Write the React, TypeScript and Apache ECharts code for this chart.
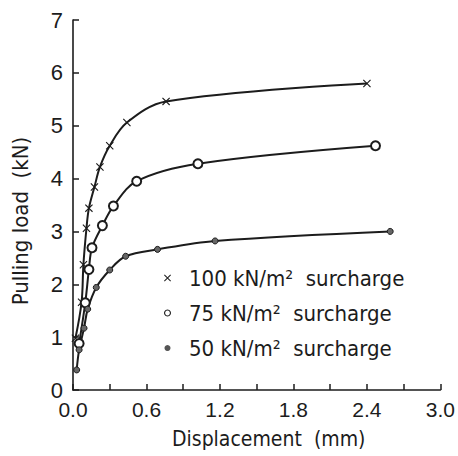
import React, { useEffect, useRef } from "react";
import * as echarts from "echarts";

// Displacement (mm) / Pulling load (kN)
const disp100 = [0.02, 0.07, 0.085, 0.11, 0.13, 0.175, 0.22, 0.3, 0.44, 0.76, 2.4];
const load100 = [0.98, 1.66, 2.37, 3.06, 3.44, 3.84, 4.22, 4.62, 5.06, 5.46, 5.8];
const disp75 = [0.05, 0.1, 0.13, 0.155, 0.24, 0.33, 0.52, 1.02, 2.47];
const load75 = [0.88, 1.65, 2.28, 2.69, 3.11, 3.48, 3.95, 4.28, 4.62];
const disp50 = [0.03, 0.05, 0.09, 0.12, 0.19, 0.3, 0.43, 0.69, 1.16, 2.59];
const load50 = [0.38, 0.76, 1.17, 1.53, 1.94, 2.27, 2.53, 2.66, 2.82, 3.0];

const seriesNames = ["100 kN/m²  surcharge", "75 kN/m²  surcharge", "50 kN/m²  surcharge"];
const xTitle = "Displacement  (mm)";
const yTitle = "Pulling load  (kN)";

const INK = "#1c1c1c";
const CROSS = "path://M1,0L5,4L9,0L10,1L6,5L10,9L9,10L5,6L1,10L0,9L4,5L0,1Z";
const RING = "path://M3.5,0A3.5,3.5,0,1,1,3.49,0ZM3.5,1.1A2.4,2.4,0,1,0,3.51,1.1Z";
const SMALL_DOT = "path://M0.5,0.5M6.5,6.5M3.5,0.9A2.6,2.6,0,1,1,3.49,0.9Z";
const FONT = "DejaVu Sans Condensed, DejaVu Sans, sans-serif";
const NUMFONT = "Liberation Sans, Arial, sans-serif";

function pairs(xs: number[], ys: number[]) {
  return xs.map((x, i) => [x, ys[i]]);
}

export default function App() {
  const ref = useRef<HTMLDivElement>(null);
  useEffect(() => {
    if (!ref.current) return;
    const chart = echarts.init(ref.current, null, { renderer: "svg" });
    const lineBase = {
      type: "line" as const,
      smooth: 0.35,
      lineStyle: { color: INK, width: 2 },
      z: 2,
    };
    chart.setOption({
      animation: false,
      backgroundColor: "#ffffff",
      grid: { left: 73, right: 15, top: 20, bottom: 66, containLabel: false },
      legend: {
        orient: "vertical",
        left: 159,
        top: 262,
        itemGap: 13,
        itemWidth: 33,
        itemHeight: 7,
        textStyle: { color: INK, fontSize: 22, fontFamily: FONT },
        data: [
          { name: seriesNames[0], icon: CROSS, itemStyle: { color: INK, borderWidth: 0 } },
          { name: seriesNames[1], icon: RING, itemStyle: { color: INK, borderWidth: 0 } },
          { name: seriesNames[2], icon: SMALL_DOT, itemStyle: { color: "#555", borderWidth: 0 } },
        ],
      },
      xAxis: {
        type: "value",
        min: 0,
        max: 3,
        interval: 0.6,
        name: xTitle,
        nameLocation: "middle",
        nameGap: 38,
        nameTextStyle: { color: INK, fontSize: 21, fontFamily: FONT, padding: [0, 0, 0, 24] },
        axisLine: { show: true, lineStyle: { color: INK, width: 1.6 } },
        axisTick: { show: true, inside: true, length: 6, lineStyle: { color: INK, width: 1.5 } },
        minorTick: { show: true, splitNumber: 2, length: 6, lineStyle: { color: INK, width: 1.5 } },
        splitLine: { show: false },
        minorSplitLine: { show: false },
        axisLabel: {
          color: INK,
          fontSize: 21,
          fontFamily: NUMFONT,
          margin: 9,
          formatter: (v: number) => v.toFixed(1),
        },
      },
      yAxis: {
        type: "value",
        min: 0,
        max: 7,
        interval: 1,
        name: yTitle,
        nameLocation: "middle",
        nameGap: 42,
        nameRotate: 90,
        nameTextStyle: { color: INK, fontSize: 22, fontFamily: FONT, padding: [0, 32, 0, 0] },
        axisLine: { show: true, lineStyle: { color: INK, width: 1.6 } },
        axisTick: { show: true, inside: true, length: 6, lineStyle: { color: INK, width: 1.5 } },
        splitLine: { show: false },
        axisLabel: { color: INK, fontSize: 22, fontFamily: NUMFONT, margin: 10 },
      },
      series: [
        {
          ...lineBase,
          name: seriesNames[0],
          data: pairs(disp100, load100),
          symbol: CROSS,
          symbolSize: 8,
          itemStyle: { color: INK },
        },
        {
          ...lineBase,
          name: seriesNames[1],
          data: pairs(disp75, load75),
          symbol: "emptyCircle",
          symbolSize: 9,
          itemStyle: { color: INK, borderColor: INK, borderWidth: 1.6 },
        },
        {
          ...lineBase,
          name: seriesNames[2],
          data: pairs(disp50, load50),
          symbol: "circle",
          symbolSize: 6,
          itemStyle: { color: "#666", borderColor: INK, borderWidth: 1 },
        },
      ],
    });
    return () => chart.dispose();
  }, []);
  return (
    <div
      ref={ref}
      style={{ position: "fixed", left: 0, top: 0, width: 458, height: 456, background: "#fff" }}
    />
  );
}
